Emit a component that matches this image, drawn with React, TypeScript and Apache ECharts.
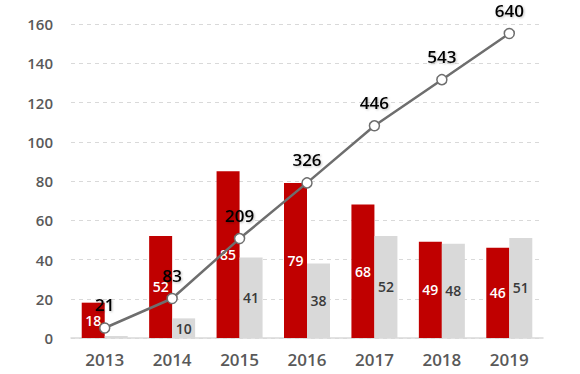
import React, { useEffect, useRef } from "react";
import * as echarts from "echarts";

const years = ["2013", "2014", "2015", "2016", "2017", "2018", "2019"];
const redValues = [18, 52, 85, 79, 68, 49, 46];
const grayValues = [1, 10, 41, 38, 52, 48, 51];
const cumulative = [21, 83, 209, 326, 446, 543, 640];
const leftTicks = [0, 20, 40, 60, 80, 100, 120, 140, 160];

const FONT = "'Open Sans', 'Noto Sans', sans-serif";

export default function App() {
  const ref = useRef<HTMLDivElement>(null);
  useEffect(() => {
    if (!ref.current) return;
    const chart = echarts.init(ref.current, undefined, { renderer: "svg" });
    chart.setOption({
      animation: false,
      textStyle: { fontFamily: FONT },
      grid: { left: 71, right: 37, top: 24, bottom: 36 },
      xAxis: {
        type: "category",
        data: years,
        axisLine: { lineStyle: { color: "#d9d9d9", width: 1.5 } },
        axisTick: { show: false },
        axisLabel: { color: "#595959", fontSize: 17, fontWeight: 600, margin: 13, fontFamily: FONT },
      },
      yAxis: [
        {
          type: "value",
          min: leftTicks[0],
          max: leftTicks[leftTicks.length - 1],
          interval: 20,
          axisLine: { show: false },
          axisTick: { show: false },
          axisLabel: { color: "#595959", fontSize: 15, fontWeight: 600, margin: 18, fontFamily: FONT },
          splitLine: { lineStyle: { color: "#d9d9d9", type: [4, 4] } },
        },
        {
          type: "value",
          min: 0,
          max: 660,
          show: false,
          splitLine: { show: false },
        },
      ],
      series: [
        {
          type: "bar",
          data: redValues,
          barWidth: 23,
          barGap: "0%",
          itemStyle: { color: "#c00000" },
          label: {
            show: true,
            position: "inside",
            color: "#ffffff",
            fontSize: 14,
            fontWeight: 600,
            fontFamily: FONT,
          },
        },
        {
          type: "bar",
          data: grayValues.map((v) =>
            v < 5 ? { value: v, label: { show: false } } : v
          ),
          barWidth: 23,
          barGap: "0%",
          itemStyle: { color: "#d9d9d9" },
          label: {
            show: true,
            position: "inside",
            color: "#3a3a3a",
            fontSize: 14,
            fontWeight: 600,
            fontFamily: FONT,
          },
        },
        {
          type: "line",
          yAxisIndex: 1,
          data: cumulative,
          symbol: "circle",
          symbolSize: 10,
          lineStyle: { color: "#6e6e6e", width: 2.5 },
          itemStyle: { color: "#ffffff", borderColor: "#6e6e6e", borderWidth: 1.5 },
          z: 5,
          label: {
            show: true,
            position: "top",
            distance: 9,
            color: "#000000",
            fontSize: 17,
            fontWeight: 600,
            fontFamily: FONT,
            textShadowColor: "rgba(0,0,0,0.25)",
            textShadowBlur: 2,
            textShadowOffsetX: 1,
            textShadowOffsetY: 1,
          },
        },
      ],
    });
    return () => chart.dispose();
  }, []);
  return (
    <div
      ref={ref}
      style={{ position: "fixed", left: 0, top: 0, width: 580, height: 374, background: "#fff" }}
    />
  );
}
